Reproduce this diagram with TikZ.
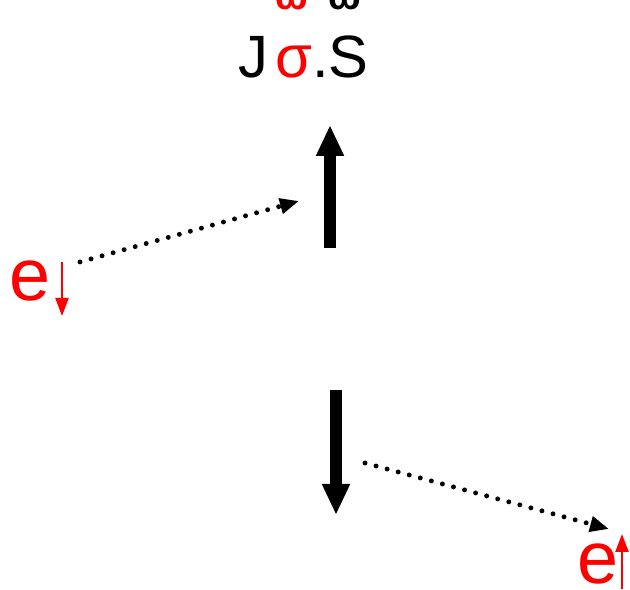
\documentclass[tikz,border=0pt]{standalone}
\usepackage{fontspec}
\setmainfont{Liberation Sans}
\usetikzlibrary{arrows.meta,positioning}
\definecolor{spred}{HTML}{FF0000}

\begin{document}
\begin{tikzpicture}[
  x=0.02cm, y=-0.02cm,
  label/.style={inner sep=0pt, font=\fontsize{34}{38}\selectfont},
  elabel/.style={inner sep=0pt, text=spred, font=\fontsize{42}{46}\selectfont},
  accentmark/.style={inner sep=0pt, font=\fontsize{22}{24}\selectfont\bfseries},
  spin/.style={line width=12*0.567pt, -{Triangle[length=0.62cm, width=0.52cm]}},
  espin/.style={line width=1.2pt, spred, -{Triangle[length=0.36cm, width=0.26cm]}},
  hop/.style={line width=2.8pt, line cap=round, dash pattern=on 0pt off 11.5*0.567pt,
    -{Triangle[length=0.38cm, width=0.3cm]}}
]
  \useasboundingbox (0,0) rectangle (630,590);

  % coupling term
  \node[label, anchor=base west] (tj) at (238,78) {J\hspace{0.12em}\textcolor{spred}{σ}.S};
  \node[accentmark, text=spred, anchor=base] (ms) at (292,10) {ω};
  \node[accentmark, anchor=base] (mS) at (345,10) {ω};

  % local spins
  \coordinate (u0) at (330,248);
  \coordinate (u1) at (330,125);
  \coordinate (d0) at (336,390);
  \coordinate (d1) at (336,515);
  \draw[spin] (u0) -- (u1);
  \draw[spin] (d0) -- (d1);

  % electrons
  \node[elabel, anchor=base west] (ed) at (9,301) {e};
  \node[elabel, anchor=base west] (eu) at (577,584) {e};
  \coordinate (ed0) at (62,262);
  \coordinate (ed1) at (62,316);
  \coordinate (eu0) at (622,589);
  \coordinate (eu1) at (622,534);
  \draw[espin] (ed0) -- (ed1);
  \draw[espin] (eu0) -- (eu1);

  % scattering paths
  \coordinate (h0) at (80,262);
  \coordinate (h1) at (299,201);
  \coordinate (h2) at (365,463);
  \coordinate (h3) at (609,529);
  \draw[hop] (h0) -- (h1);
  \draw[hop] (h2) -- (h3);
\end{tikzpicture}
\end{document}
